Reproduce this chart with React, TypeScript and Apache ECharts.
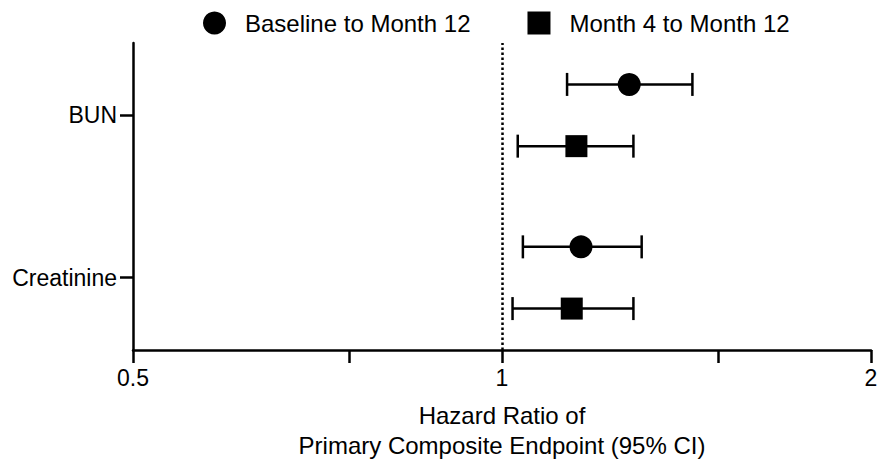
import React, { useEffect, useRef } from "react";
import * as echarts from "echarts";

const categories = ["BUN", "Creatinine"];
const seriesNames = ["Baseline to Month 12", "Month 4 to Month 12"];
const baselineHR = [1.27, 1.16];
const baselineLow = [1.13, 1.04];
const baselineHigh = [1.43, 1.3];
const month4HR = [1.15, 1.14];
const month4Low = [1.03, 1.02];
const month4High = [1.28, 1.28];
const xTickValues = [0.5, 1, 2];
const xMinorTickValues = [0.75, 1.5];
const xAxisTitle = "Hazard Ratio of\nPrimary Composite Endpoint (95% CI)";

const FONT = "'Liberation Sans', Arial, Helvetica, sans-serif";

export default function App() {
  const ref = useRef<HTMLDivElement>(null);

  useEffect(() => {
    if (!ref.current) return;
    const chart = echarts.init(ref.current, null, { renderer: "svg" });
    const n = categories.length;
    const catPos = categories.map((_, i) => (n - 1 - i) * 2 + 1);
    const off = 0.38;

    const basePts = categories.map((_, i) => [baselineHR[i], catPos[i] + off]);
    const m4Pts = categories.map((_, i) => [month4HR[i], catPos[i] - off]);
    const baseErr = categories.map((_, i) => [baselineLow[i], baselineHigh[i], catPos[i] + off]);
    const m4Err = categories.map((_, i) => [month4Low[i], month4High[i], catPos[i] - off]);

    const renderErr = (params: any, api: any) => {
      const y = api.value(2);
      const a = api.coord([api.value(0), y]);
      const b = api.coord([api.value(1), y]);
      const h = 11.5;
      const style = { stroke: "#000", lineWidth: 2.5 };
      return {
        type: "group",
        children: [
          { type: "line", shape: { x1: a[0], y1: a[1], x2: b[0], y2: b[1] }, style },
          { type: "line", shape: { x1: a[0], y1: a[1] - h, x2: a[0], y2: a[1] + h }, style },
          { type: "line", shape: { x1: b[0], y1: b[1] - h, x2: b[0], y2: b[1] + h }, style },
        ],
      };
    };

    chart.setOption({
      animation: false,
      backgroundColor: "#fff",
      textStyle: { fontFamily: FONT },
      legend: {
        top: 6,
        left: 198,
        itemWidth: 23,
        itemHeight: 23,
        itemGap: 57,
        selectedMode: false,
        itemStyle: { color: "#000", opacity: 1 },
        textStyle: { fontSize: 24, color: "#000", fontFamily: FONT, padding: [0, 0, 0, 14] },
        data: [
          { name: seriesNames[0], icon: "circle" },
          { name: seriesNames[1], icon: "rect" },
        ],
      },
      grid: { left: 133, right: 10, top: 43, bottom: 118, containLabel: false },
      xAxis: [
        {
          type: "log",
          logBase: 2,
          min: xTickValues[0],
          max: xTickValues[xTickValues.length - 1],
          interval: 1,
          position: "bottom",
          axisLine: { show: true, onZero: false, lineStyle: { color: "#000", width: 2.5 } },
          axisTick: { show: true, length: 13, lineStyle: { color: "#000", width: 2.5 } },
          axisLabel: {
            fontSize: 23,
            color: "#000",
            fontFamily: FONT,
            margin: 16,
            formatter: (v: number) => String(v),
          },
          splitLine: { show: false },
          name: xAxisTitle,
          nameLocation: "middle",
          nameGap: 50,
          nameTextStyle: { fontSize: 24, color: "#000", fontFamily: FONT, lineHeight: 30 },
        },
        {
          type: "value",
          min: Math.log2(xTickValues[0]),
          max: Math.log2(xTickValues[xTickValues.length - 1]),
          position: "bottom",
          axisLine: { show: false, onZero: false },
          axisLabel: { show: false },
          splitLine: { show: false },
          axisTick: {
            show: true,
            length: 13,
            customValues: xMinorTickValues.map((v) => Math.log2(v)),
            lineStyle: { color: "#000", width: 2.5 },
          },
        },
      ],
      yAxis: {
        type: "value",
        min: 0.11,
        max: 3.89,
        axisLine: { show: true, onZero: false, lineStyle: { color: "#000", width: 2.5 } },
        axisTick: {
          show: true,
          length: 13,
          customValues: catPos,
          lineStyle: { color: "#000", width: 2.5 },
        },
        axisLabel: {
          fontSize: 23,
          color: "#000",
          fontFamily: FONT,
          margin: 16,
          customValues: catPos,
          formatter: (v: number) => {
            const idx = catPos.indexOf(Math.round(v));
            return idx >= 0 ? categories[idx] : "";
          },
        },
        splitLine: { show: false },
      },
      series: [
        {
          type: "custom",
          name: "err-base",
          xAxisIndex: 0,
          renderItem: renderErr,
          encode: { x: [0, 1], y: 2 },
          data: baseErr,
          z: 2,
          silent: true,
        },
        {
          type: "custom",
          name: "err-m4",
          xAxisIndex: 0,
          renderItem: renderErr,
          encode: { x: [0, 1], y: 2 },
          data: m4Err,
          z: 2,
          silent: true,
        },
        {
          type: "scatter",
          name: seriesNames[0],
          xAxisIndex: 0,
          symbol: "circle",
          symbolSize: 23,
          itemStyle: { color: "#000", opacity: 1 },
          data: basePts,
          z: 5,
          markLine: {
            silent: true,
            symbol: "none",
            label: { show: false },
            lineStyle: { color: "#000", width: 2.5, type: [2.5, 2.5], opacity: 1 },
            data: [{ xAxis: 1 }],
          },
        },
        {
          type: "scatter",
          name: seriesNames[1],
          xAxisIndex: 0,
          symbol: "rect",
          symbolSize: 22,
          itemStyle: { color: "#000", opacity: 1 },
          data: m4Pts,
          z: 5,
        },
      ],
    });

    return () => chart.dispose();
  }, []);

  return (
    <div
      ref={ref}
      style={{ position: "fixed", left: 0, top: 0, width: 881, height: 468, background: "#fff" }}
    />
  );
}
